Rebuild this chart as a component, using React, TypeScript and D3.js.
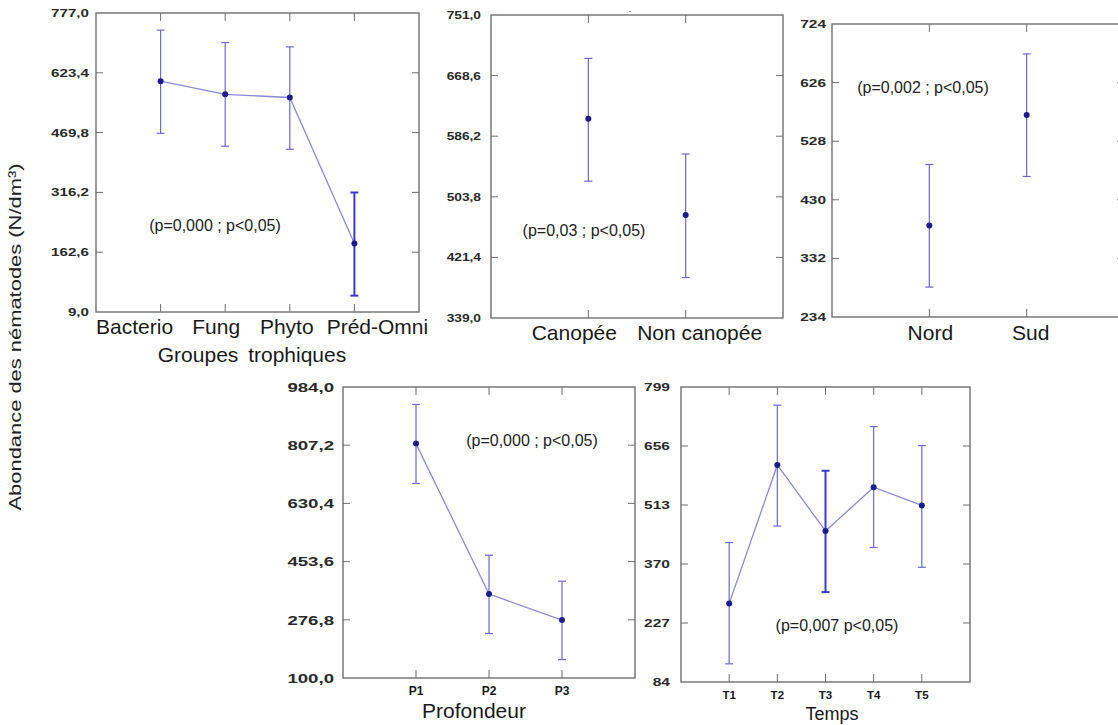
import React from "react";
import * as d3 from "d3";

// ---------- DATA ----------
const trophicCats = ["Bacterio", "Fung", "Phyto", "Préd-Omni"];
const trophicMean = [602, 568, 560, 185];
const trophicUpper = [733, 701, 690, 316];
const trophicLower = [468, 435, 427, 51];
const trophicTicks = [9.0, 162.6, 316.2, 469.8, 623.4, 777.0];

const canopyCats = ["Canopée", "Non canopée"];
const canopyMean = [610, 479];
const canopyUpper = [692, 562];
const canopyLower = [525, 394];
const canopyTicks = [339.0, 421.4, 503.8, 586.2, 668.6, 751.0];

const zoneCats = ["Nord", "Sud"];
const zoneMean = [387, 572];
const zoneUpper = [489, 674];
const zoneLower = [284, 469];
const zoneTicks = [234, 332, 430, 528, 626, 724];

const depthCats = ["P1", "P2", "P3"];
const depthMean = [812, 355, 276];
const depthUpper = [931, 473, 394];
const depthLower = [691, 235, 156];
const depthTicks = [100.0, 276.8, 453.6, 630.4, 807.2, 984.0];

const timeCats = ["T1", "T2", "T3", "T4", "T5"];
const timeMean = [274, 610, 450, 556, 512];
const timeUpper = [422, 755, 596, 703, 657];
const timeLower = [128, 462, 302, 410, 362];
const timeTicks = [84, 227, 370, 513, 656, 799];

const yTitle = "Abondance des nématodes (N/dm³)";

// ---------- LAYOUT ----------
type Panel = {
  cats: string[]; mean: number[]; upper: number[]; lower: number[]; ticks: number[];
  decimals: number; x0: number; x1: number; y0: number; y1: number;
  line: boolean; bold: number[]; labelFs: number; labelSx: number; labelGap: number;
  catFs: number; catY: number; catWeight?: string; catDx?: number[];
  title?: string; titleX?: number; titleY?: number; titleFs?: number;
  note: string; noteX: number; noteY: number;
};

const panels: Panel[] = [
  {
    cats: trophicCats, mean: trophicMean, upper: trophicUpper, lower: trophicLower, ticks: trophicTicks,
    decimals: 1, x0: 96, x1: 419, y0: 13, y1: 312, line: true, bold: [3],
    labelFs: 11, labelSx: 1.38, labelGap: 7, catFs: 21, catY: 334, catDx: [-26, -9, -3, 23],
    title: "Groupes trophiques", titleX: 252, titleY: 362, titleFs: 21,
    note: "(p=0,000 ; p<0,05)", noteX: 215, noteY: 231,
  },
  {
    cats: canopyCats, mean: canopyMean, upper: canopyUpper, lower: canopyLower, ticks: canopyTicks,
    decimals: 1, x0: 491, x1: 783, y0: 15, y1: 318, line: false, bold: [],
    labelFs: 11, labelSx: 1.25, labelGap: 10, catFs: 21, catY: 340, catDx: [-14, 14],
    note: "(p=0,03 ; p<0,05)", noteX: 584, noteY: 236,
  },
  {
    cats: zoneCats, mean: zoneMean, upper: zoneUpper, lower: zoneLower, ticks: zoneTicks,
    decimals: 0, x0: 832, x1: 1124, y0: 24, y1: 317, line: false, bold: [],
    labelFs: 11, labelSx: 1.4, labelGap: 6, catFs: 21, catY: 340, catDx: [1, 4],
    note: "(p=0,002 ; p<0,05)", noteX: 923, noteY: 93,
  },
  {
    cats: depthCats, mean: depthMean, upper: depthUpper, lower: depthLower, ticks: depthTicks,
    decimals: 1, x0: 343, x1: 635, y0: 387, y1: 678, line: true, bold: [],
    labelFs: 13.5, labelSx: 1.38, labelGap: 9, catFs: 12, catY: 695, catWeight: "bold",
    title: "Profondeur", titleX: 474, titleY: 718, titleFs: 21,
    note: "(p=0,000 ; p<0,05)", noteX: 532, noteY: 446,
  },
  {
    cats: timeCats, mean: timeMean, upper: timeUpper, lower: timeLower, ticks: timeTicks,
    decimals: 0, x0: 681, x1: 970, y0: 387, y1: 682, line: true, bold: [2],
    labelFs: 11.5, labelSx: 1.35, labelGap: 11, catFs: 11.5, catY: 699, catWeight: "bold",
    title: "Temps", titleX: 832, titleY: 720, titleFs: 18,
    note: "(p=0,007 p<0,05)", noteX: 837, noteY: 631,
  },
];

const FONT = "'Liberation Sans', Arial, sans-serif";
const AXIS = "#6f6f6f";
const TICK = 7;

function fmt(v: number, dec: number) {
  return d3.format(dec ? ".1f" : ".0f")(v).replace(".", ",");
}

function PanelView({ p }: { p: Panel }) {
  const x = d3.scalePoint<string>().domain(p.cats).range([p.x0, p.x1]).padding(1);
  const y = d3.scaleLinear().domain([p.ticks[0], p.ticks[p.ticks.length - 1]]).range([p.y1, p.y0]);
  const lineGen = d3.line<number>().x((_, i) => x(p.cats[i]) as number).y((d) => y(d));
  const inner = p.ticks.slice(1, -1);
  return (
    <g>
      {inner.map((t, i) => (
        <g key={"yt" + i} stroke={AXIS} strokeWidth={1}>
          <line x1={p.x0} x2={p.x0 + TICK} y1={y(t)} y2={y(t)} />
          <line x1={p.x1} x2={p.x1 - TICK} y1={y(t)} y2={y(t)} />
        </g>
      ))}
      {p.cats.map((c, i) => (
        <g key={"xt" + i} stroke={AXIS} strokeWidth={1}>
          <line x1={x(c)} x2={x(c)} y1={p.y0} y2={p.y0 + TICK + 1} />
          <line x1={x(c)} x2={x(c)} y1={p.y1} y2={p.y1 - TICK - 1} />
        </g>
      ))}
      <rect x={p.x0} y={p.y0} width={p.x1 - p.x0} height={p.y1 - p.y0} fill="none" stroke={AXIS} strokeWidth={1.4} />
      {p.ticks.map((t, i) => (
        <text
          key={"yl" + i}
          transform={`translate(${p.x0 - p.labelGap},${y(t) + p.labelFs * 0.36}) scale(${p.labelSx},1)`}
          textAnchor="end"
          fontSize={p.labelFs}
          fontFamily={FONT}
          fill="#2a2a2a"
          fontWeight={600}
        >
          {fmt(t, p.decimals)}
        </text>
      ))}
      {p.cats.map((c, i) => (
        <text key={"cl" + i} x={(x(c) as number) + (p.catDx ? p.catDx[i] : 0)} y={p.catY} textAnchor="middle"
          fontSize={p.catFs} fontFamily={FONT} fill="#1a1a1a" fontWeight={p.catWeight || "normal"}>
          {c}
        </text>
      ))}
      {p.title && (
        <text x={p.titleX} y={p.titleY} textAnchor="middle" fontSize={p.titleFs} fontFamily={FONT} fill="#1a1a1a" wordSpacing={4}>
          {p.title}
        </text>
      )}
      {p.line && <path d={lineGen(p.mean) || ""} fill="none" stroke="#8a8ad6" strokeWidth={1.3} />}
      {p.cats.map((c, i) => {
        const cx = x(c) as number;
        const b = p.bold.includes(i);
        const col = b ? "#3a3ad2" : "#6a6ad4";
        const sw = b ? 2 : 1.2;
        return (
          <g key={"eb" + i} stroke={col} strokeWidth={sw}>
            <line x1={cx} x2={cx} y1={y(p.upper[i])} y2={y(p.lower[i])} />
            <line x1={cx - 4} x2={cx + 4} y1={y(p.upper[i])} y2={y(p.upper[i])} />
            <line x1={cx - 4} x2={cx + 4} y1={y(p.lower[i])} y2={y(p.lower[i])} />
          </g>
        );
      })}
      {p.cats.map((c, i) => (
        <circle key={"pt" + i} cx={x(c)} cy={y(p.mean[i])} r={3} fill="#1c1c8e" />
      ))}
      <text x={p.noteX} y={p.noteY} textAnchor="middle" fontSize={16} fontFamily={FONT} fill="#222">
        {p.note}
      </text>
    </g>
  );
}

export default function App() {
  return (
    <svg width={1118} height={725} style={{ position: "absolute", left: 0, top: 0, background: "#fff" }}>
      <rect width={1118} height={725} fill="#fff" />
      {panels.map((p, i) => (
        <PanelView key={i} p={p} />
      ))}
      <text x={630} y={12} textAnchor="middle" fontSize={10} fontFamily={FONT} fill="#555">.</text>
      <text
        transform="translate(21,337) rotate(-90)"
        textAnchor="middle"
        fontSize={17}
        fontFamily={FONT}
        fill="#222"
        textLength={347}
        lengthAdjust="spacingAndGlyphs"
      >
        {yTitle}
      </text>
    </svg>
  );
}
